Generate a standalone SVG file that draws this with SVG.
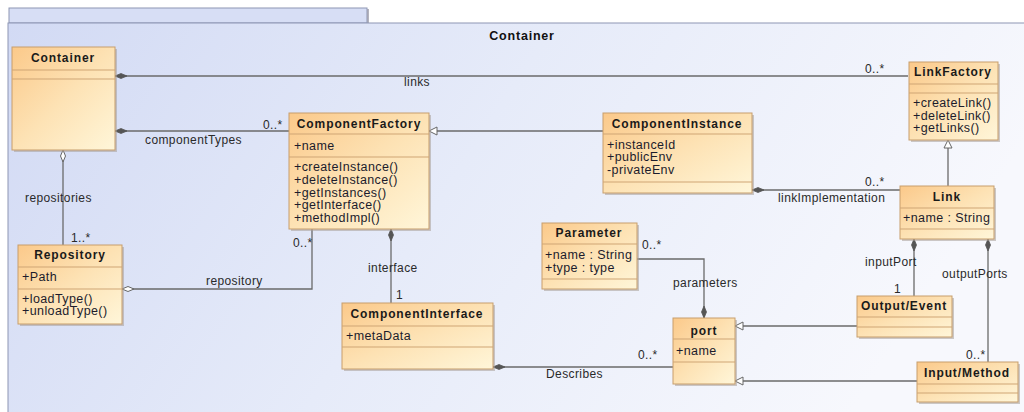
<svg xmlns="http://www.w3.org/2000/svg" width="1024" height="412" viewBox="0 0 1024 412">
<defs>
<linearGradient id="frameG" x1="0" y1="0" x2="1" y2="0.25">
<stop offset="0" stop-color="#d2daf4"/>
<stop offset="0.5" stop-color="#e6ebf9"/>
<stop offset="1" stop-color="#f7f8fd"/>
</linearGradient>
<linearGradient id="nodeG" x1="0" y1="0" x2="1" y2="1">
<stop offset="0" stop-color="#fbc98a"/>
<stop offset="0.5" stop-color="#fde2b4"/>
<stop offset="1" stop-color="#fff6d9"/>
</linearGradient>
<marker id="dia" markerUnits="userSpaceOnUse" markerWidth="14" markerHeight="8" refX="1" refY="4" orient="auto">
<path d="M1,4 L7,1.5 L13,4 L7,6.5 z" fill="#555" stroke="#555" stroke-width="0.8"/>
</marker>
<marker id="hdia" markerUnits="userSpaceOnUse" markerWidth="14" markerHeight="8" refX="1" refY="4" orient="auto">
<path d="M1,4 L7,1.5 L13,4 L7,6.5 z" fill="#ffffff" stroke="#666" stroke-width="1"/>
</marker>
<marker id="tri" markerUnits="userSpaceOnUse" markerWidth="11" markerHeight="11" refX="9" refY="5" orient="auto">
<path d="M1,1 L9,5 L1,9 z" fill="#ffffff" stroke="#666" stroke-width="1"/>
</marker>
</defs>
<style>
.frame{fill:url(#frameG);stroke:#8d96b3;stroke-width:1}
.tab{fill:#d7def5;stroke:#8d96b3;stroke-width:1}
.box{fill:url(#nodeG);stroke:#c79e6c;stroke-width:1}
.sh{fill:#a89f98;opacity:0.55}
.dv{stroke:#cfa574;stroke-width:1}
.hd{font-family:"Liberation Sans",Arial,sans-serif;font-weight:bold;font-size:12px;letter-spacing:0.9px;fill:#1a1a1a;text-anchor:middle}
.mb{font-family:"Liberation Sans",Arial,sans-serif;font-size:12.5px;letter-spacing:0.4px;fill:#1c1c2c}
.lb{font-family:"Liberation Sans",Arial,sans-serif;font-size:12px;letter-spacing:0.4px;fill:#2a2a2a}
.ln{fill:none;stroke:#6a6a6a;stroke-width:1.3}
.title{font-family:"Liberation Sans",Arial,sans-serif;font-weight:bold;font-size:12.5px;letter-spacing:0.8px;fill:#111;text-anchor:middle}
</style>
<rect width="1024" height="412" fill="#ffffff"/>
<g id="frame">
<rect x="9" y="8" width="358" height="15" class="tab"/>
<line x1="368" y1="9" x2="368" y2="23" stroke="#9a9aa8" stroke-width="1.5"/>
<rect x="8" y="23" width="1030" height="400" class="frame"/>
<text x="522" y="40" class="title">Container</text>
</g>
<g id="connectors">
<path class="ln" d="M115,76 H908" marker-start="url(#dia)"/>
<path class="ln" d="M115,131 H289" marker-start="url(#dia)"/>
<path class="ln" d="M63,150 V245" marker-start="url(#hdia)"/>
<path class="ln" d="M122,289 H312 V229" marker-start="url(#hdia)"/>
<path class="ln" d="M603,131 H429" marker-end="url(#tri)"/>
<path class="ln" d="M391,229 V303" marker-start="url(#dia)"/>
<path class="ln" d="M752,190 H900" marker-start="url(#dia)"/>
<path class="ln" d="M948,186 V140" marker-end="url(#tri)"/>
<path class="ln" d="M914,239 V296" marker-start="url(#dia)"/>
<path class="ln" d="M988,239 V362" marker-start="url(#dia)"/>
<path class="ln" d="M857,326 H735" marker-end="url(#tri)"/>
<path class="ln" d="M917,381 H735" marker-end="url(#tri)"/>
<path class="ln" d="M493,367 H673" marker-start="url(#dia)"/>
<path class="ln" d="M704,318 V259 H637" marker-start="url(#dia)"/>
<text x="404" y="86" class="lb">links</text>
<text x="865" y="73" class="lb">0..*</text>
<text x="263" y="129" class="lb">0..*</text>
<text x="145" y="144" class="lb">componentTypes</text>
<text x="25" y="202" class="lb">repositories</text>
<text x="71" y="242" class="lb">1..*</text>
<text x="293" y="247" class="lb">0..*</text>
<text x="206" y="285" class="lb">repository</text>
<text x="368" y="272" class="lb">interface</text>
<text x="396" y="299" class="lb">1</text>
<text x="546" y="378" class="lb">Describes</text>
<text x="638" y="359" class="lb">0..*</text>
<text x="642" y="249" class="lb">0..*</text>
<text x="673" y="287" class="lb">parameters</text>
<text x="865" y="266" class="lb">inputPort</text>
<text x="894" y="293" class="lb">1</text>
<text x="942" y="278" class="lb">outputPorts</text>
<text x="966" y="359" class="lb">0..*</text>
<text x="865" y="186" class="lb">0..*</text>
<text x="778" y="202" class="lb">linkImplementation</text>
</g>
<g id="node-container">
<rect x="14" y="49" width="103" height="103" class="sh"/>
<rect x="12" y="47" width="103" height="103" class="box"/>
<line x1="12" y1="70" x2="115" y2="70" class="dv"/>
<line x1="12" y1="79" x2="115" y2="79" class="dv"/>
<text x="63" y="62" class="hd">Container</text>
</g>
<g id="node-componentfactory">
<rect x="291" y="115" width="140" height="116" class="sh"/>
<rect x="289" y="113" width="140" height="116" class="box"/>
<line x1="289" y1="134" x2="429" y2="134" class="dv"/>
<line x1="289" y1="157" x2="429" y2="157" class="dv"/>
<text x="359" y="128" class="hd">ComponentFactory</text>
<text x="294" y="150" class="mb">+name</text>
<text x="294" y="171" class="mb">+createInstance()</text>
<text x="294" y="184" class="mb">+deleteInstance()</text>
<text x="294" y="197" class="mb">+getInstances()</text>
<text x="294" y="209" class="mb">+getInterface()</text>
<text x="294" y="222" class="mb">+methodImpl()</text>
</g>
<g id="node-componentinstance">
<rect x="605" y="115" width="149" height="80" class="sh"/>
<rect x="603" y="113" width="149" height="80" class="box"/>
<line x1="603" y1="134" x2="752" y2="134" class="dv"/>
<line x1="603" y1="182" x2="752" y2="182" class="dv"/>
<text x="677" y="128" class="hd">ComponentInstance</text>
<text x="607" y="149" class="mb">+instanceId</text>
<text x="607" y="161" class="mb">+publicEnv</text>
<text x="607" y="174" class="mb">-privateEnv</text>
</g>
<g id="node-linkfactory">
<rect x="911" y="64" width="89" height="78" class="sh"/>
<rect x="909" y="62" width="89" height="78" class="box"/>
<line x1="909" y1="84" x2="998" y2="84" class="dv"/>
<line x1="909" y1="93" x2="998" y2="93" class="dv"/>
<text x="953" y="76" class="hd">LinkFactory</text>
<text x="913" y="107" class="mb">+createLink()</text>
<text x="913" y="120" class="mb">+deleteLink()</text>
<text x="913" y="132" class="mb">+getLinks()</text>
</g>
<g id="node-link">
<rect x="902" y="188" width="94" height="53" class="sh"/>
<rect x="900" y="186" width="94" height="53" class="box"/>
<line x1="900" y1="208" x2="994" y2="208" class="dv"/>
<line x1="900" y1="229" x2="994" y2="229" class="dv"/>
<text x="947" y="201" class="hd">Link</text>
<text x="903" y="222" class="mb">+name : String</text>
</g>
<g id="node-parameter">
<rect x="544" y="225" width="95" height="66" class="sh"/>
<rect x="542" y="223" width="95" height="66" class="box"/>
<line x1="542" y1="244" x2="637" y2="244" class="dv"/>
<line x1="542" y1="279" x2="637" y2="279" class="dv"/>
<text x="589" y="237" class="hd">Parameter</text>
<text x="545" y="259" class="mb">+name : String</text>
<text x="545" y="272" class="mb">+type : type</text>
</g>
<g id="node-port">
<rect x="675" y="320" width="62" height="66" class="sh"/>
<rect x="673" y="318" width="62" height="66" class="box"/>
<line x1="673" y1="339" x2="735" y2="339" class="dv"/>
<line x1="673" y1="362" x2="735" y2="362" class="dv"/>
<text x="704" y="335" class="hd">port</text>
<text x="676" y="355" class="mb">+name</text>
</g>
<g id="node-componentinterface">
<rect x="344" y="305" width="151" height="66" class="sh"/>
<rect x="342" y="303" width="151" height="66" class="box"/>
<line x1="342" y1="326" x2="493" y2="326" class="dv"/>
<line x1="342" y1="347" x2="493" y2="347" class="dv"/>
<text x="417" y="318" class="hd">ComponentInterface</text>
<text x="346" y="340" class="mb">+metaData</text>
</g>
<g id="node-repository">
<rect x="20" y="247" width="104" height="79" class="sh"/>
<rect x="18" y="245" width="104" height="79" class="box"/>
<line x1="18" y1="267" x2="122" y2="267" class="dv"/>
<line x1="18" y1="289" x2="122" y2="289" class="dv"/>
<text x="70" y="259" class="hd">Repository</text>
<text x="22" y="281" class="mb">+Path</text>
<text x="22" y="303" class="mb">+loadType()</text>
<text x="22" y="315" class="mb">+unloadType()</text>
</g>
<g id="node-outputevent">
<rect x="859" y="298" width="95" height="41" class="sh"/>
<rect x="857" y="296" width="95" height="41" class="box"/>
<line x1="857" y1="317" x2="952" y2="317" class="dv"/>
<line x1="857" y1="327" x2="952" y2="327" class="dv"/>
<text x="904" y="310" class="hd">Output/Event</text>
</g>
<g id="node-inputmethod">
<rect x="919" y="364" width="101" height="40" class="sh"/>
<rect x="917" y="362" width="101" height="40" class="box"/>
<line x1="917" y1="384" x2="1018" y2="384" class="dv"/>
<line x1="917" y1="393" x2="1018" y2="393" class="dv"/>
<text x="967" y="377" class="hd">Input/Method</text>
</g>
</svg>
